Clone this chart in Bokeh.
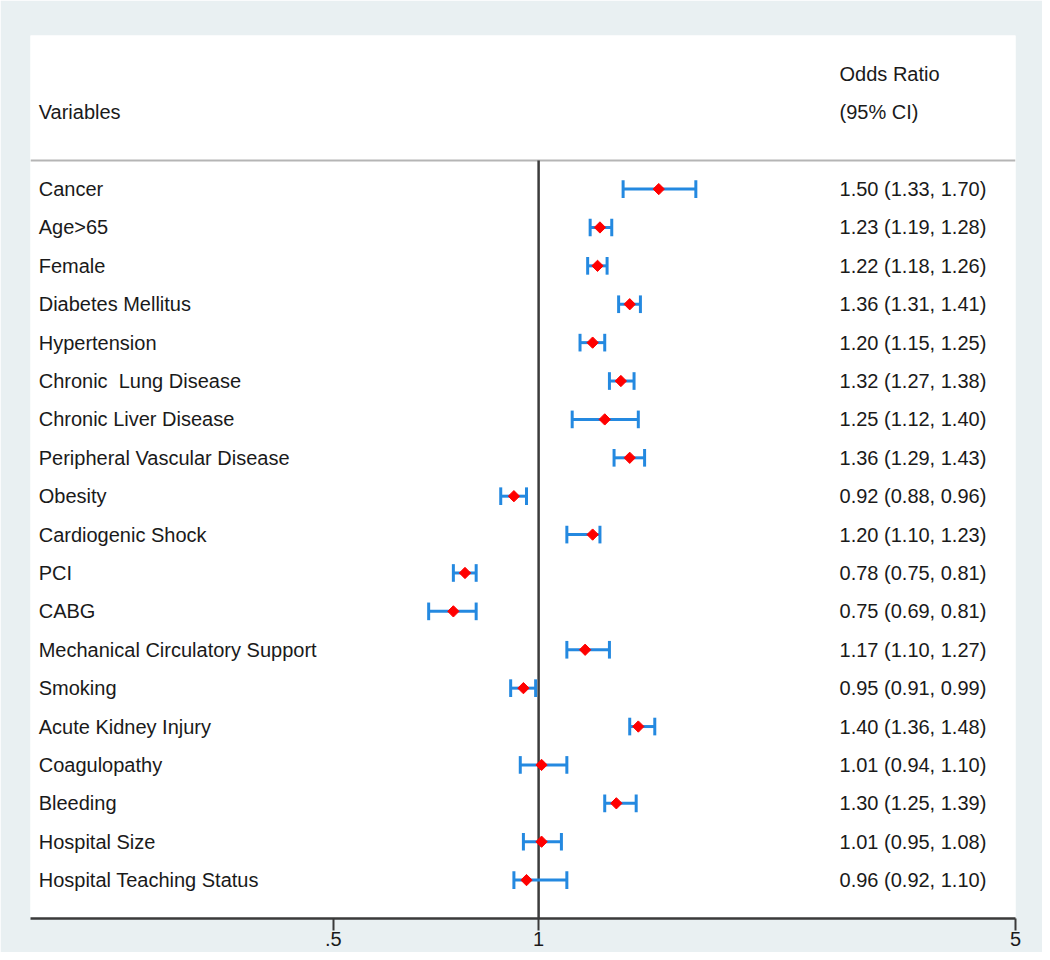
import numpy as np
from bokeh.plotting import figure
from bokeh.models import Range1d, FixedTicker, ColumnDataSource
from bokeh.core.properties import value
from bokeh.embed import file_html
from bokeh.resources import INLINE

variables = ["Cancer", "Age>65", "Female", "Diabetes Mellitus", "Hypertension",
             "Chronic  Lung Disease", "Chronic Liver Disease", "Peripheral Vascular Disease",
             "Obesity", "Cardiogenic Shock", "PCI", "CABG", "Mechanical Circulatory Support",
             "Smoking", "Acute Kidney Injury", "Coagulopathy", "Bleeding", "Hospital Size",
             "Hospital Teaching Status"]
odds = [1.50, 1.23, 1.22, 1.36, 1.20, 1.32, 1.25, 1.36, 0.92, 1.20, 0.78, 0.75, 1.17,
        0.95, 1.40, 1.01, 1.30, 1.01, 0.96]
lower = [1.33, 1.19, 1.18, 1.31, 1.15, 1.27, 1.12, 1.29, 0.88, 1.10, 0.75, 0.69, 1.10,
         0.91, 1.36, 0.94, 1.25, 0.95, 0.92]
upper = [1.70, 1.28, 1.26, 1.41, 1.25, 1.38, 1.40, 1.43, 0.96, 1.23, 0.81, 0.81, 1.27,
         0.99, 1.48, 1.10, 1.39, 1.08, 1.10]
tick_values = [0.5, 1, 5]
tick_labels = [".5", "1", "5"]

n = len(variables)
ypos = [-i for i in range(n)]
var_disp = [v.replace("  ", " \u00a0") for v in variables]
or_text = [f"{o:.2f} ({l:.2f}, {u:.2f})" for o, l, u in zip(odds, lower, upper)]

FONT = value("Liberation Sans")
FS = "20px"
TXT = "#1a1a1a"
BG = "#e9f0f2"
BLUE = "#2489e0"

p = figure(width=1042, height=952, x_axis_type="log",
           x_range=Range1d(0.180, 5.0), y_range=Range1d(-19, 4),
           y_axis_location=None, output_backend="svg", toolbar_location=None,
           min_border_left=30, min_border_right=27, min_border_top=35,
           min_border_bottom=34)
p.border_fill_color = BG
p.background_fill_color = "white"
p.outline_line_color = None
p.xgrid.visible = False
p.ygrid.visible = False

ax = p.xaxis[0]
ax.ticker = FixedTicker(ticks=tick_values, minor_ticks=[])
ax.major_label_overrides = {v: s for v, s in zip(tick_values, tick_labels)}
ax.axis_line_color = "#3a3a3a"
ax.axis_line_width = 2.5
ax.major_tick_line_color = "#3a3a3a"
ax.major_tick_line_width = 2
ax.major_tick_out = 12
ax.major_tick_in = 0
ax.minor_tick_out = 0
ax.minor_tick_in = 0
ax.major_label_text_font = "Liberation Sans"
ax.major_label_text_font_size = FS
ax.major_label_text_color = TXT
ax.major_label_standoff = 1

# header separator and reference line
p.segment(x0=[0.180], x1=[5.0], y0=[0.744], y1=[0.744], line_color="#b5b5b5", line_width=2)
p.segment(x0=[1], x1=[1], y0=[0.744], y1=[-19], line_color="#3c3c3c", line_width=2.5)

src = ColumnDataSource(dict(y=ypos, o=odds, lo=lower, hi=upper, var=var_disp, txt=or_text,
                            ylo=[y - 0.23 for y in ypos], yhi=[y + 0.23 for y in ypos]))

p.segment(x0="lo", x1="hi", y0="y", y1="y", source=src, line_color=BLUE, line_width=3)
p.segment(x0="lo", x1="lo", y0="ylo", y1="yhi", source=src, line_color=BLUE, line_width=3)
p.segment(x0="hi", x1="hi", y0="ylo", y1="yhi", source=src, line_color=BLUE, line_width=3)
p.scatter(x="o", y="y", source=src, marker="square", angle=np.pi / 4, size=8,
          fill_color="#ff0000", line_color="#ff0000")

x_left = 10 ** ((38 - 538) / 682.4)
x_right = 10 ** ((839 - 538) / 682.4)
p.text(x=x_left, y="y", text="var", source=src, text_font=FONT, text_font_size=FS,
       text_color=TXT, text_baseline="middle", text_align="left")
p.text(x=x_right, y="y", text="txt", source=src, text_font=FONT, text_font_size=FS,
       text_color=TXT, text_baseline="middle", text_align="left")

p.text(x=[x_left], y=[2], text=["Variables"], text_font=FONT, text_font_size=FS,
       text_color=TXT, text_baseline="middle")
p.text(x=[x_right, x_right], y=[3, 2], text=["Odds Ratio", "(95% CI)"], text_font=FONT,
       text_font_size=FS, text_color=TXT, text_baseline="middle")

open("out.html", "w").write(file_html(p, INLINE))
